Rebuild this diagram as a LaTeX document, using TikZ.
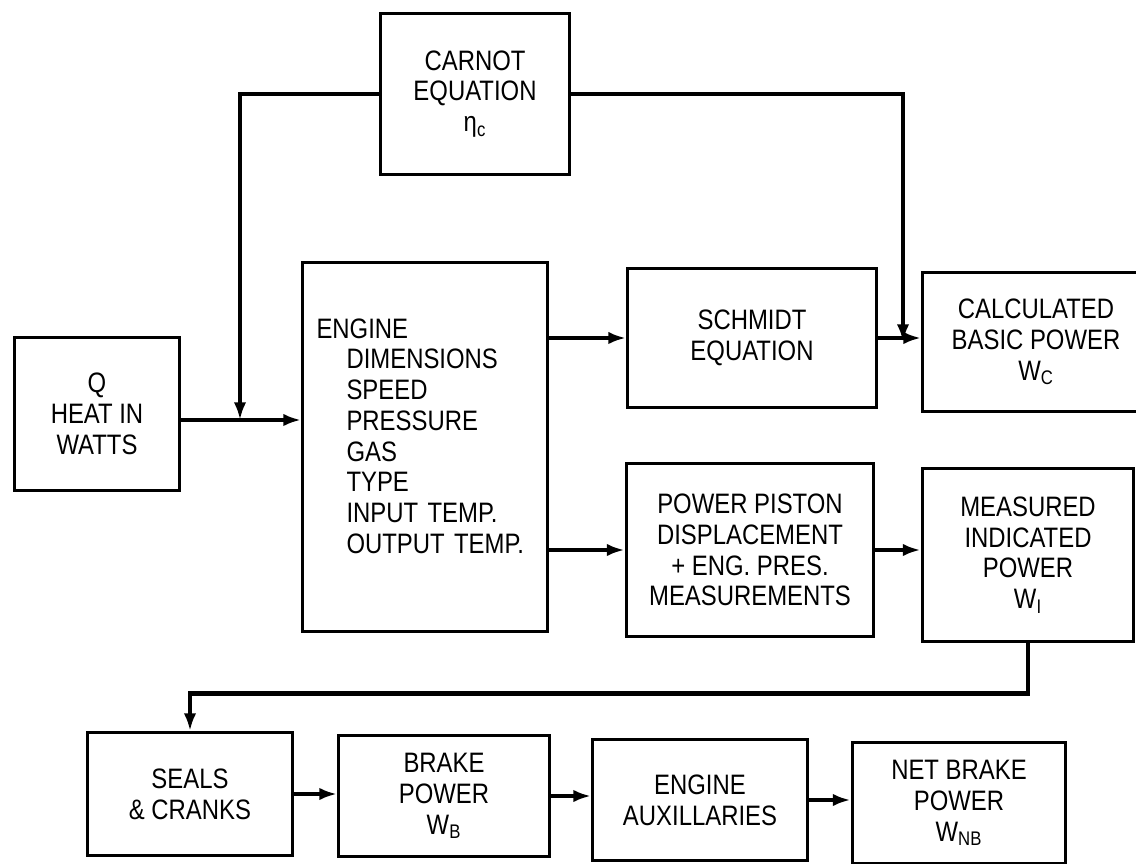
\documentclass[tikz,border=0pt]{standalone}
\usepackage{fontspec}
\setmainfont{Liberation Sans}[FakeStretch=0.85]
\usetikzlibrary{positioning,arrows.meta}

\begin{document}
\begin{tikzpicture}[
    x=0.02cm, y=-0.02cm,
    every node/.style={font=\fontsize{16}{17.5}\selectfont},
    box/.style={draw, line width=1.7pt, align=center, inner sep=0pt},
    conn/.style={line width=2.6pt, -{Latex[length=10pt,width=7pt]}}
]
    \useasboundingbox (0,0) rectangle (1136,864);
    \clip (0,0) rectangle (1136,864);

    % Top row: Carnot efficiency
    \node[box, minimum width=3.8cm, minimum height=3.24cm] (carnot) at (475,94)
        {CARNOT\\EQUATION\\η\textsubscript{c}};

    % Middle rows
    \node[box, minimum width=3.32cm, minimum height=3.06cm] (heat) at (97,414)
        {Q\\HEAT IN\\WATTS};
    \node[box, align=left, text width=4.34cm, inner sep=0.28cm, minimum height=7.4cm] (engine) at (425,447)
        {ENGINE\\\hspace*{0.6cm}DIMENSIONS\\\hspace*{0.6cm}SPEED\\\hspace*{0.6cm}PRESSURE\\\hspace*{0.6cm}GAS\\\hspace*{0.6cm}TYPE\\\hspace*{0.6cm}INPUT TEMP.\\\hspace*{0.6cm}OUTPUT TEMP.\\[-5pt]\mbox{}};
    \node[box, minimum width=4.98cm, minimum height=2.8cm] (schmidt) at (752,338)
        {SCHMIDT\\EQUATION};
    \node[box, minimum width=4.54cm, minimum height=2.78cm] (calc) at (1036,342)
        {CALCULATED\\BASIC POWER\\W\textsubscript{C}};
    \node[box, minimum width=4.96cm, minimum height=3.48cm] (piston) at (750,550)
        {POWER PISTON\\DISPLACEMENT\\+ ENG. PRES.\\MEASUREMENTS};
    \node[box, minimum width=4.24cm, minimum height=3.48cm] (measured) at (1028,555)
        {MEASURED\\INDICATED\\POWER\\W\textsubscript{I}};

    % Bottom row
    \node[box, minimum width=4.12cm, minimum height=2.46cm] (seals) at (190,794)
        {SEALS\\\& CRANKS};
    \node[box, minimum width=4.22cm, minimum height=2.44cm] (brake) at (444,796)
        {BRAKE\\POWER\\W\textsubscript{B}};
    \node[box, minimum width=4.3cm, minimum height=2.42cm] (aux) at (700,800)
        {ENGINE\\AUXILLARIES};
    \node[box, minimum width=4.28cm, minimum height=2.44cm] (netbrake) at (959,803)
        {NET BRAKE\\POWER\\W\textsubscript{NB}};

    % Junctions on the feed lines
    \coordinate (jq) at (240,420);
    \coordinate (jc) at (903,342);

    % Connectors
    \draw[conn] (carnot.west) -| (jq);
    \draw[conn] (heat.east |- jq) -- (engine.west |- jq);
    \draw[conn] (carnot.east) -| (jc);
    \draw[conn] (engine.east |- schmidt.west) -- (schmidt.west);
    \draw[conn] (schmidt.east) -- (calc.west |- schmidt.east);
    \draw[conn] (engine.east |- piston.west) -- (piston.west);
    \draw[conn] (piston.east) -- (measured.west |- piston.east);
    \draw[conn] (measured.south) -- ++(0,50) -| (seals.north);
    \draw[conn] (seals.east) -- (brake.west |- seals.east);
    \draw[conn] (brake.east) -- (aux.west |- brake.east);
    \draw[conn] (aux.east) -- (netbrake.west |- aux.east);
\end{tikzpicture}
\end{document}
